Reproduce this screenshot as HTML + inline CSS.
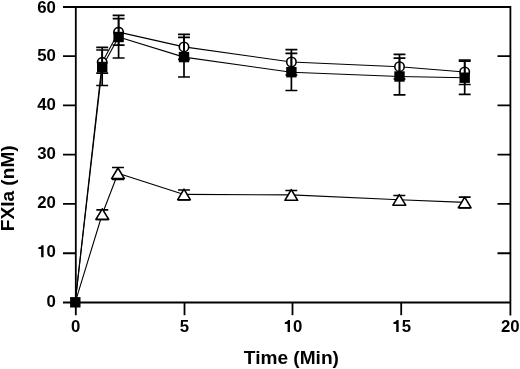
<!DOCTYPE html>
<html><head><meta charset="utf-8"><style>
html,body{margin:0;padding:0;background:#fff;}
body{width:520px;height:369px;position:relative;overflow:hidden;font-family:"Liberation Sans", sans-serif;}
</style></head><body>
<svg width="520" height="369" viewBox="0 0 520 369" style="position:absolute;left:0;top:0;will-change:transform"><g stroke="#000" stroke-width="1.8" fill="none" stroke-linecap="butt"><path d="M63 7 H511.2 M63 302.5 H511.2 M75.8 6.1 V315.2 M510.4 6.1 V315.5"/><path d="M63 253.23 H76 M497.5 253.23 H510.4"/><path d="M63 203.96 H76 M497.5 203.96 H510.4"/><path d="M63 154.69 H76 M497.5 154.69 H510.4"/><path d="M63 105.42 H76 M497.5 105.42 H510.4"/><path d="M63 56.15 H76 M497.5 56.15 H510.4"/><path d="M184.50 302.5 V315.2"/><path d="M292.50 302.5 V315.2"/><path d="M401.20 302.5 V315.2"/></g><g stroke="#000" stroke-width="1.1" fill="none" stroke-linejoin="round"><path d="M75.20 302.40 L102.20 62.30 L118.60 32.10 L184.00 46.90 L291.40 62.00 L399.50 66.70 L464.70 72.00"/><path d="M75.20 302.40 L102.20 67.00 L118.60 37.00 L184.00 57.10 L291.40 72.20 L399.50 76.50 L464.70 77.70"/><path d="M75.20 302.40 L102.30 214.00 L118.00 173.20 L184.00 194.40 L291.30 194.90 L399.30 199.80 L464.70 202.40"/></g><circle cx="102.2" cy="62.3" r="4.7" fill="#fff" stroke="#000" stroke-width="1.6"/><circle cx="118.6" cy="32.1" r="4.7" fill="#fff" stroke="#000" stroke-width="1.6"/><circle cx="184.0" cy="46.9" r="4.7" fill="#fff" stroke="#000" stroke-width="1.6"/><circle cx="291.4" cy="62.0" r="4.7" fill="#fff" stroke="#000" stroke-width="1.6"/><circle cx="399.5" cy="66.7" r="4.7" fill="#fff" stroke="#000" stroke-width="1.6"/><circle cx="464.7" cy="72.0" r="4.7" fill="#fff" stroke="#000" stroke-width="1.6"/><path d="M102.2 50.0 V73.1 M96.25 50.0 H108.15 M96.25 73.1 H108.15" stroke="#000" stroke-width="1.7" fill="none"/><path d="M118.6 18.6 V45.2 M112.65 18.6 H124.55 M112.65 45.2 H124.55" stroke="#000" stroke-width="1.7" fill="none"/><path d="M184.0 34.4 V59.4 M178.05 34.4 H189.95 M178.05 59.4 H189.95" stroke="#000" stroke-width="1.7" fill="none"/><path d="M291.4 49.6 V75.0 M285.45 49.6 H297.35 M285.45 75.0 H297.35" stroke="#000" stroke-width="1.7" fill="none"/><path d="M399.5 54.4 V79.0 M393.55 54.4 H405.45 M393.55 79.0 H405.45" stroke="#000" stroke-width="1.7" fill="none"/><path d="M464.7 60.0 V84.5 M458.75 60.0 H470.65 M458.75 84.5 H470.65" stroke="#000" stroke-width="1.7" fill="none"/><path d="M102.2 47.4 V85.5 M96.25 47.4 H108.15 M96.25 85.5 H108.15" stroke="#000" stroke-width="1.7" fill="none"/><path d="M118.6 15.4 V58.0 M112.65 15.4 H124.55 M112.65 58.0 H124.55" stroke="#000" stroke-width="1.7" fill="none"/><path d="M184.0 37.4 V77.0 M178.05 37.4 H189.95 M178.05 77.0 H189.95" stroke="#000" stroke-width="1.7" fill="none"/><path d="M291.4 53.4 V90.5 M285.45 53.4 H297.35 M285.45 90.5 H297.35" stroke="#000" stroke-width="1.7" fill="none"/><path d="M399.5 58.2 V94.8 M393.55 58.2 H405.45 M393.55 94.8 H405.45" stroke="#000" stroke-width="1.7" fill="none"/><path d="M464.7 61.2 V94.3 M458.75 61.2 H470.65 M458.75 94.3 H470.65" stroke="#000" stroke-width="1.7" fill="none"/><path d="M102.3 209.8 V219.4 M96.35 209.8 H108.25 M96.35 219.4 H108.25" stroke="#000" stroke-width="1.7" fill="none"/><path d="M118.0 167.5 V179.3 M112.05 167.5 H123.95 M112.05 179.3 H123.95" stroke="#000" stroke-width="1.7" fill="none"/><path d="M184.0 190.0 V199.8 M178.05 190.0 H189.95 M178.05 199.8 H189.95" stroke="#000" stroke-width="1.7" fill="none"/><path d="M291.3 190.5 V200.2 M285.35 190.5 H297.25 M285.35 200.2 H297.25" stroke="#000" stroke-width="1.7" fill="none"/><path d="M399.3 195.5 V205.2 M393.35 195.5 H405.25 M393.35 205.2 H405.25" stroke="#000" stroke-width="1.7" fill="none"/><path d="M464.7 197.1 V207.8 M458.75 197.1 H470.65 M458.75 207.8 H470.65" stroke="#000" stroke-width="1.7" fill="none"/><rect x="70.10" y="297.10" width="10.4" height="10.4" fill="#000"/><rect x="97.00" y="61.80" width="10.4" height="10.4" fill="#000"/><rect x="113.40" y="31.80" width="10.4" height="10.4" fill="#000"/><rect x="178.80" y="51.90" width="10.4" height="10.4" fill="#000"/><rect x="286.20" y="67.00" width="10.4" height="10.4" fill="#000"/><rect x="394.30" y="71.30" width="10.4" height="10.4" fill="#000"/><rect x="459.50" y="72.50" width="10.4" height="10.4" fill="#000"/><path d="M102.3 208.80 L108.70 219.40 L95.90 219.40 Z" fill="#fff" stroke="#000" stroke-width="1.6" stroke-linejoin="round"/><path d="M118.0 168.00 L124.40 178.60 L111.60 178.60 Z" fill="#fff" stroke="#000" stroke-width="1.6" stroke-linejoin="round"/><path d="M184.0 189.20 L190.40 199.80 L177.60 199.80 Z" fill="#fff" stroke="#000" stroke-width="1.6" stroke-linejoin="round"/><path d="M291.3 189.70 L297.70 200.30 L284.90 200.30 Z" fill="#fff" stroke="#000" stroke-width="1.6" stroke-linejoin="round"/><path d="M399.3 194.60 L405.70 205.20 L392.90 205.20 Z" fill="#fff" stroke="#000" stroke-width="1.6" stroke-linejoin="round"/><path d="M464.7 197.20 L471.10 207.80 L458.30 207.80 Z" fill="#fff" stroke="#000" stroke-width="1.6" stroke-linejoin="round"/><g font-family="Liberation Sans, sans-serif" font-weight="bold" font-size="16.8" fill="#000"><text x="37.22" y="12.80">6</text><text x="46.56" y="12.80">0</text><text x="37.22" y="61.45">5</text><text x="46.56" y="61.45">0</text><text x="37.22" y="109.95">4</text><text x="46.56" y="109.95">0</text><text x="37.22" y="159.45">3</text><text x="46.56" y="159.45">0</text><text x="37.22" y="208.05">2</text><text x="46.56" y="208.05">0</text><path transform="translate(37.22 257.15) scale(0.01680 -0.01680)" d="M378 0 L378 710 L262 710 C246 642 178 594 69 588 L69 478 L234 478 L234 0 Z"/><text x="46.56" y="257.15">0</text><text x="46.56" y="306.75">0</text><text x="71.03" y="332.05">0</text><text x="179.68" y="332.05">5</text><path transform="translate(283.66 332.05) scale(0.01680 -0.01680)" d="M378 0 L378 710 L262 710 C246 642 178 594 69 588 L69 478 L234 478 L234 0 Z"/><text x="293.00" y="332.05">0</text><path transform="translate(392.31 332.05) scale(0.01680 -0.01680)" d="M378 0 L378 710 L262 710 C246 642 178 594 69 588 L69 478 L234 478 L234 0 Z"/><text x="401.65" y="332.05">5</text><text x="500.96" y="332.05">2</text><text x="510.30" y="332.05">0</text></g><text x="291.4" y="363.7" text-anchor="middle" font-family="Liberation Sans, sans-serif" font-weight="bold" font-size="19.1">Time (Min)</text><text transform="translate(13.8 188.3) rotate(-90)" text-anchor="middle" font-family="Liberation Sans, sans-serif" font-weight="bold" font-size="19.1">FXIa (nM)</text></svg>
</body></html>
